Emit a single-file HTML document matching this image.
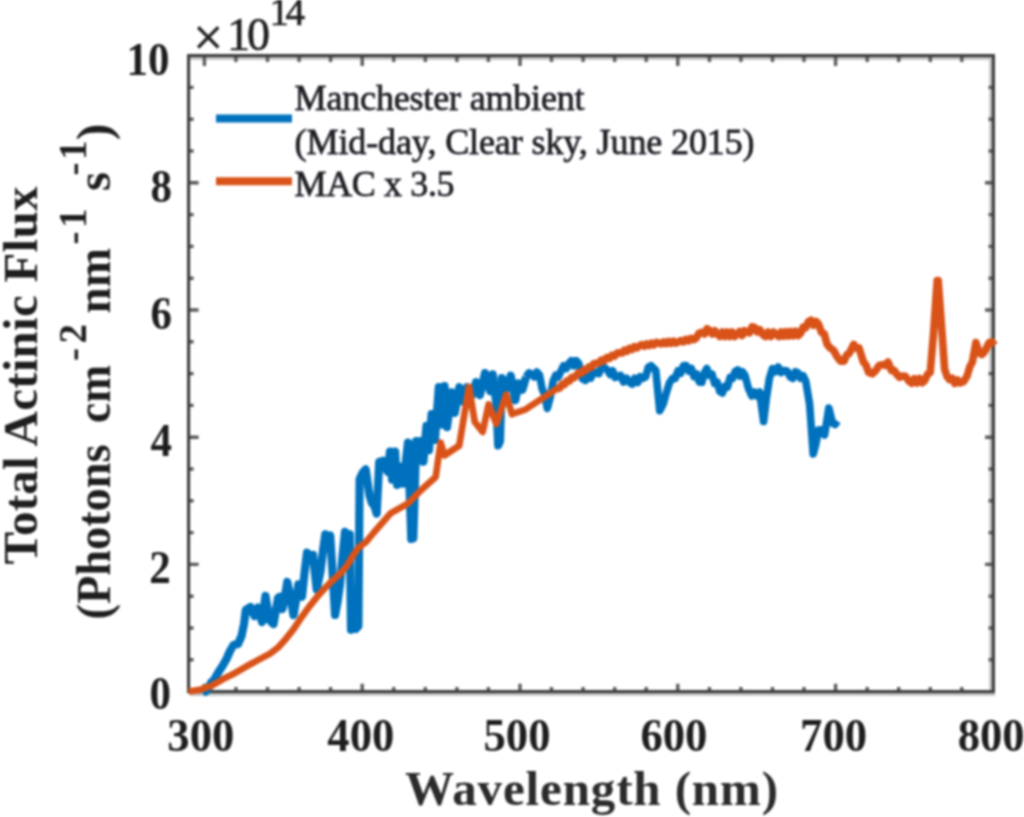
<!DOCTYPE html>
<html lang="en">
<head>
<meta charset="utf-8">
<title>Total Actinic Flux</title>
<style>
html,body{margin:0;padding:0;background:#fff;}
body{width:1024px;height:817px;overflow:hidden;font-family:"Liberation Serif","Times New Roman",serif;}
svg{display:block;filter:blur(0.8px);}
svg text{font-family:"Liberation Serif","Times New Roman",serif;fill:#1e1e1e;}
.tick{font-size:47px;font-weight:bold;fill:#303030;}
.lab{font-size:49px;font-weight:bold;fill:#2b2b2b;}
.leg{font-size:36px;fill:#14141c;stroke:#2a2a38;stroke-width:0.8px;}
.exp{font-size:46px;fill:#2b2b2b;stroke:#2b2b2b;stroke-width:0.7px;}
.sup{font-size:39px;}
</style>
</head>
<body>
<svg width="1024" height="817" viewBox="0 0 1024 817">
<rect width="1024" height="817" fill="#ffffff"/>
<g stroke="#c8c8c8" stroke-width="3" fill="none">
<path d="M190 58.5H992M190 694.4H995M990.6 57V690"/>
</g>
<g stroke="#3c3c3c" fill="none">
<path stroke="#5a5a5a" stroke-width="3.4" d="M204.4 691.6v-7.8M204.4 55.6v10.5M235.9 691.6v-4.6M235.9 55.6v6.5M267.5 691.6v-4.6M267.5 55.6v6.5M299.1 691.6v-4.6M299.1 55.6v6.5M330.6 691.6v-4.6M330.6 55.6v6.5M362.2 691.6v-7.8M362.2 55.6v10.5M393.7 691.6v-4.6M393.7 55.6v6.5M425.3 691.6v-4.6M425.3 55.6v6.5M456.9 691.6v-4.6M456.9 55.6v6.5M488.4 691.6v-4.6M488.4 55.6v6.5M520.0 691.6v-7.8M520.0 55.6v10.5M551.5 691.6v-4.6M551.5 55.6v6.5M583.1 691.6v-4.6M583.1 55.6v6.5M614.7 691.6v-4.6M614.7 55.6v6.5M646.2 691.6v-4.6M646.2 55.6v6.5M677.8 691.6v-7.8M677.8 55.6v10.5M709.4 691.6v-4.6M709.4 55.6v6.5M740.9 691.6v-4.6M740.9 55.6v6.5M772.5 691.6v-4.6M772.5 55.6v6.5M804.0 691.6v-4.6M804.0 55.6v6.5M835.6 691.6v-7.8M835.6 55.6v10.5M867.2 691.6v-4.6M867.2 55.6v6.5M898.7 691.6v-4.6M898.7 55.6v6.5M930.3 691.6v-4.6M930.3 55.6v6.5M961.8 691.6v-4.6M961.8 55.6v6.5M188.6 659.8h5M993.4 659.8h-4.9M188.6 628.0h5M993.4 628.0h-4.9M188.6 596.2h5M993.4 596.2h-4.9M188.6 564.4h10M993.4 564.4h-8.4M188.6 532.6h5M993.4 532.6h-4.9M188.6 500.8h5M993.4 500.8h-4.9M188.6 469.0h5M993.4 469.0h-4.9M188.6 437.2h10M993.4 437.2h-8.4M188.6 405.4h5M993.4 405.4h-4.9M188.6 373.6h5M993.4 373.6h-4.9M188.6 341.8h5M993.4 341.8h-4.9M188.6 310.0h10M993.4 310.0h-8.4M188.6 278.2h5M993.4 278.2h-4.9M188.6 246.4h5M993.4 246.4h-4.9M188.6 214.6h5M993.4 214.6h-4.9M188.6 182.8h10M993.4 182.8h-8.4M188.6 151.0h5M993.4 151.0h-4.9M188.6 119.2h5M993.4 119.2h-4.9M188.6 87.4h5M993.4 87.4h-4.9"/>
<rect x="188.6" y="55.6" width="804.8" height="636.0" stroke-width="3.1"/>
</g>
<g fill="none" stroke-linejoin="round" stroke-linecap="butt">
<polyline stroke="#0072bd" stroke-width="8.2" points="203.0,692.0 205.8,691.6 208.5,688.0 211.2,682.4 214.0,680.0 218.5,672.0 222.5,666.0 226.5,659.0 230.0,651.0 233.5,645.0 238.0,644.0 241.5,636.0 244.0,624.0 245.8,610.0 250.5,607.0 254.5,616.0 258.0,607.5 262.0,622.0 265.5,596.0 269.5,620.0 273.5,624.0 278.0,598.0 280.0,596.7 282.4,609.0 284.9,597.1 287.3,582.0 290.4,596.9 293.5,615.0 295.9,601.4 298.4,584.5 302.0,596.7 304.5,573.1 307.0,552.7 310.0,555.5 313.0,555.0 316.7,589.4 320.4,572.0 322.9,551.5 325.3,534.3 327.8,536.5 330.2,535.5 332.6,573.6 335.1,615.0 337.6,601.4 340.0,584.5 342.5,556.5 345.0,531.8 347.4,534.6 349.8,534.3 351.0,629.8 353.5,626.9 355.9,628.9 358.4,626.0 359.6,479.2 362.6,472.7 365.7,469.4 369.4,495.0 371.8,502.8 374.3,505.7 376.7,513.5 379.2,462.0 382.9,460.8 385.4,467.9 387.8,471.8 390.0,451.5 392.1,479.7 395.1,451.5 397.2,484.9 400.8,466.9 403.4,483.6 408.0,442.5 411.3,539.0 413.3,538.3 416.2,441.2 418.8,460.5 420.8,441.2 423.4,461.7 426.5,425.8 429.0,450.2 431.6,414.2 435.0,439.9 438.8,387.2 441.4,424.5 444.5,386.0 447.0,427.1 451.6,392.4 454.7,412.9 459.4,387.2 463.2,401.4 467.1,387.2 472.2,395.0 476.1,382.1 479.9,395.0 485.0,373.1 490.2,391.1 492.7,374.4 496.4,404.0 498.2,445.5 500.0,441.0 501.8,378.0 506.9,388.5 510.7,375.7 515.4,400.1 518.4,383.4 522.3,389.8 526.1,377.0"/>
<polyline stroke="#0072bd" stroke-width="7.6" points="526.1,377.0 528.9,372.9 531.7,374.0 534.3,376.9 536.9,372.1 539.5,375.0 542.1,388.7 544.7,394.7 547.3,408.4 550.2,397.3 553.2,381.0 555.8,375.1 558.4,376.9 561.0,371.0 563.6,365.8 566.3,368.5 568.9,363.3 571.4,360.7 573.8,365.9 576.2,360.7 578.7,363.3 582.6,379.0 585.3,380.4 588.1,374.0 590.8,378.0 593.6,371.6 596.3,373.0 598.9,373.7 601.4,366.5 604.0,367.2 607.8,370.5 610.2,374.6 612.7,370.8 615.1,377.5 617.6,376.4 620.5,375.3 623.5,382.0 626.5,378.2 629.4,382.3 632.1,384.1 634.8,378.1 637.6,382.6 640.3,376.6 643.0,378.4 645.7,376.7 648.3,367.3 651.0,365.6 655.8,370.5 659.7,410.7 663.2,404.0 666.6,392.0 669.5,382.6 672.5,378.4 675.2,378.4 678.0,370.7 680.7,373.3 683.5,365.6 686.2,365.6 688.8,371.0 691.4,368.6 694.0,376.6 696.7,374.1 699.3,382.1 701.9,382.3 704.3,372.9 706.8,368.6 709.4,375.3 712.0,374.1 714.6,383.4 717.2,382.3 719.8,391.5 722.4,393.0 725.0,386.1 727.5,387.0 730.1,377.5 732.6,378.4 735.2,371.5 737.7,369.9 740.1,376.1 742.5,371.8 745.0,375.4 748.4,388.3 751.8,396.0 754.4,392.1 757.0,395.9 759.6,392.0 763.6,421.5 766.5,397.3 769.4,378.4 772.4,368.6 775.3,371.7 778.2,366.9 781.1,372.6 784.0,370.5 787.1,371.1 790.3,377.0 792.9,378.3 795.4,371.7 798.0,373.0 800.6,378.2 803.1,375.7 805.7,380.9 809.6,404.0 813.2,454.0 815.8,444.6 818.4,430.0 821.5,429.9 824.6,435.0 828.8,408.0 832.5,423.0 835.0,424.6 837.5,421.0"/>
<polyline stroke="#d95319" stroke-width="6.7" points="188.6,691.5 199.6,689.9 211.3,685.9 223.1,679.1 234.8,673.2 246.6,666.3 258.4,659.9 270.1,653.6 277.9,647.7 285.8,638.9 293.6,629.1 301.4,617.4 309.3,606.6 317.1,596.8 325.0,588.0 332.8,580.2 340.6,573.3 346.5,566.4 352.4,556.6 358.3,547.8 366.1,541.9 373.4,533.0 390.5,513.4 407.7,503.6 422.3,489.0 435.7,476.9 440.6,442.6 444.5,455.4 459.2,445.6 463.1,422.0 469.0,386.8 474.8,422.0 482.7,431.9 488.6,404.4 496.4,424.0 506.2,394.6 512.0,414.2 525.8,409.3 537.5,401.5 557.0,388.8 559.5,388.1"/>
<polyline stroke="#d95319" stroke-width="7.6" points="557.0,388.8 559.5,388.1 561.9,384.4 564.4,384.6 566.9,380.9 569.3,381.2 571.8,377.4 574.2,377.7 576.7,375.0 579.2,372.5 581.6,373.1 584.0,369.6 586.5,370.1 589.0,366.7 591.4,367.2 593.8,363.8 596.3,363.3 598.9,363.1 601.5,360.0 604.1,360.8 606.7,357.7 609.2,358.5 611.8,355.4 614.4,356.2 617.0,353.1 619.6,352.9 622.1,353.0 624.5,350.2 627.0,351.3 629.4,348.4 631.9,349.6 634.3,346.7 636.8,347.9 639.2,346.0 641.7,344.6 644.1,346.2 646.5,343.9 649.0,345.5 651.5,343.1 653.9,344.8 656.3,342.4 658.8,343.0 661.2,343.9 663.7,341.8 666.1,343.6 668.6,341.5 671.0,343.4 673.5,341.2 675.9,343.1 678.4,342.0 680.9,340.5 683.4,341.9 685.9,339.4 688.5,340.8 691.0,338.3 693.5,339.7 696.0,338.2 699.0,333.1 701.9,332.3 704.5,333.9 707.1,328.8 709.7,330.4 712.3,333.9 714.9,330.8 717.5,334.3 719.9,336.5 722.4,332.1 724.8,336.5 727.2,332.1 729.7,336.5 732.1,332.1 734.6,336.5 737.0,334.3 739.5,331.6 742.0,335.5 744.5,330.6 747.0,332.3 749.6,332.9 752.1,326.8 754.7,327.4 757.3,331.9 760.0,329.8 762.6,334.3 765.3,336.5 768.1,332.1 770.8,336.5 773.6,332.1 776.3,334.3 778.7,336.4 781.2,331.9 783.6,336.2 786.0,331.7 788.5,336.0 790.9,331.5 793.3,335.8 795.7,331.3 798.2,335.6 800.6,333.3 803.2,327.2 805.7,327.8 808.3,321.7 810.9,320.2 813.5,325.2 816.0,321.4 818.6,324.3 821.5,332.4 824.3,333.9 827.1,344.2 830.0,347.9 833.5,350.1 837.0,356.7 840.5,361.1 844.1,361.1 846.7,354.9 849.3,353.2 853.7,344.4 856.4,348.3 859.0,347.9 863.4,362.0 866.0,365.1 868.7,372.5 872.2,373.8 875.7,370.7 879.2,365.4 882.7,364.6 885.4,365.5 888.0,362.0 891.5,370.7 894.1,370.3 896.8,374.3 899.4,377.3 902.0,376.0 905.5,376.4 909.1,381.3 911.7,383.3 914.4,378.8 917.0,383.1 919.6,378.5 922.3,382.7 924.9,380.4 927.5,374.2 930.2,372.5 933.4,335.0 937.2,280.5 938.2,280.5 942.2,335.0 944.6,369.0 947.0,376.4 949.5,379.5 952.1,378.2 954.8,383.4 957.4,379.9 960.0,383.0 963.5,381.7 967.1,376.0 969.8,366.8 972.4,362.0 975.9,342.6 979.4,353.2 982.0,354.5 984.7,351.4 989.1,342.6 991.9,341.8 994.6,345.4"/>
</g>
<g fill="none" stroke-width="8">
<path stroke="#0072bd" d="M216 118.6H292"/>
<path stroke="#d95319" d="M216 181.2H292"/>
</g>
<g class="leg">
<text x="294.6" y="110.3" textLength="290" lengthAdjust="spacing">Manchester ambient</text>
<text x="294.6" y="154.2" textLength="460" lengthAdjust="spacing">(Mid-day, Clear sky, June 2015)</text>
<text x="294.6" y="195.7" textLength="160" lengthAdjust="spacing">MAC x 3.5</text>
</g>
<g class="exp">
<text x="193.2" y="54.8" style="font-size:53px">×</text>
<text x="227" y="49.6" textLength="43" lengthAdjust="spacing">10</text>
<text x="269.5" y="25" class="sup" textLength="35.5" lengthAdjust="spacing">14</text>
</g>
<g class="tick"><text x="149.5" y="708.9" textLength="21.5" lengthAdjust="spacingAndGlyphs">0</text><text x="149.3" y="582.7" textLength="21.5" lengthAdjust="spacingAndGlyphs">2</text><text x="150.5" y="455.6" textLength="21.5" lengthAdjust="spacingAndGlyphs">4</text><text x="150.5" y="329.1" textLength="21.5" lengthAdjust="spacingAndGlyphs">6</text><text x="150.5" y="202.4" textLength="21.5" lengthAdjust="spacingAndGlyphs">8</text><text x="126.6" y="75.3" textLength="43" lengthAdjust="spacingAndGlyphs">10</text><text x="167.3" y="750.8" textLength="67" lengthAdjust="spacingAndGlyphs">300</text><text x="327.3" y="750.8" textLength="67" lengthAdjust="spacingAndGlyphs">400</text><text x="483.5" y="750.8" textLength="67" lengthAdjust="spacingAndGlyphs">500</text><text x="640.4" y="750.8" textLength="67" lengthAdjust="spacingAndGlyphs">600</text><text x="800.1" y="750.8" textLength="67" lengthAdjust="spacingAndGlyphs">700</text><text x="957.7" y="750.8" textLength="67" lengthAdjust="spacingAndGlyphs">800</text></g>
<text class="lab" x="405" y="804.5" textLength="373" lengthAdjust="spacing">Wavelength (nm)</text>
<g class="lab" transform="translate(36.8 372) rotate(-90)">
<text x="-192.5" y="0" textLength="378" lengthAdjust="spacing">Total Actinic Flux</text>
</g>
<g class="lab" transform="translate(110.2 372) rotate(-90)">
<text x="-247.5" y="0" textLength="175" lengthAdjust="spacingAndGlyphs">(Photons</text>
<text x="-51" y="0" textLength="58" lengthAdjust="spacingAndGlyphs">cm</text>
<text x="11" y="-24" class="sup" textLength="37" lengthAdjust="spacing">-2</text>
<text x="58.5" y="0" textLength="65.5" lengthAdjust="spacingAndGlyphs">nm</text>
<text x="127.5" y="-24" class="sup" textLength="36" lengthAdjust="spacing">-1</text>
<text x="181" y="0">s</text>
<text x="196.5" y="-24" class="sup" textLength="35" lengthAdjust="spacing">-1</text>
<text x="232" y="0">)</text>
</g>
</svg>
</body>
</html>
